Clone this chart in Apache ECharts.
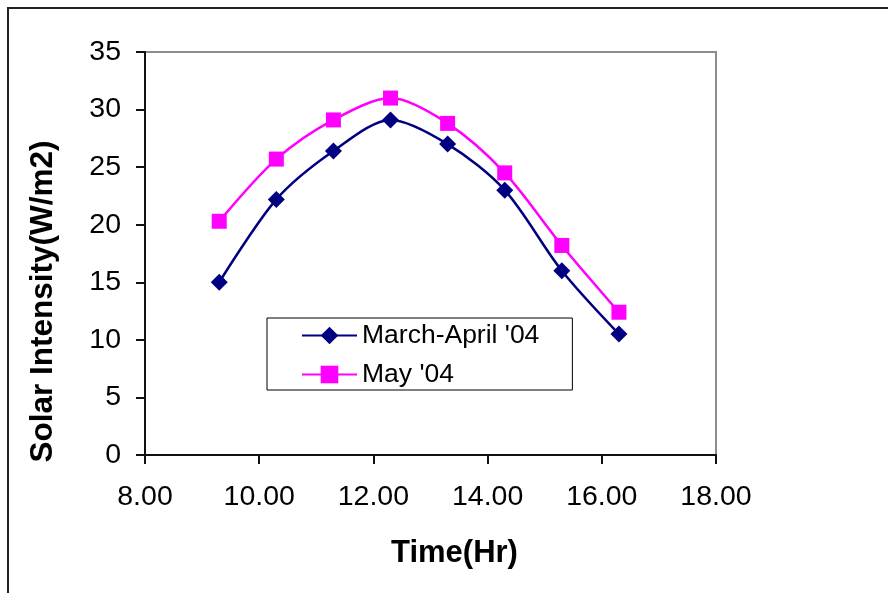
<!DOCTYPE html>
<html><head><meta charset="utf-8">
<script src="https://cdn.jsdelivr.net/npm/echarts@6/dist/echarts.min.js"></script>
<style>html,body{margin:0;padding:0;background:#fff}#c{width:888px;height:593px}</style>
</head><body><div id="c"></div>
<script>
const times = [9.3, 10.3, 11.3, 12.3, 13.3, 14.3, 15.3, 16.3];
const marchApril = [15.0, 22.2, 26.4, 29.1, 27.0, 23.0, 16.0, 10.5];
const may = [20.3, 25.7, 29.1, 31.0, 28.8, 24.5, 18.2, 12.4];
const seriesNames = ["March-April '04", "May '04"];

const chart = echarts.init(document.getElementById('c'));
const font = 'Liberation Sans, Arial, sans-serif';
chart.setOption({
  animation: false,
  graphic: [{type:'rect', shape:{x:8,y:8,width:900,height:600}, style:{fill:'none',stroke:'#222',lineWidth:2}}],
  grid: {left:145, top:52, width:571, height:403, show:true, borderColor:'#8c8c8c', borderWidth:2, containLabel:false},
  legend: {
    left: 267, top: 318,
    orient:'vertical', itemGap: 12, padding:[4,33,2,34],
    borderColor:'#000', borderWidth:1, backgroundColor:'#fff',
    itemWidth: 55, itemHeight: 22,
    textStyle:{fontFamily:font, fontSize:26.5, color:'#000'},
    data: seriesNames
  },
  xAxis: {
    type:'value', min:8, max:18, interval:2,
    name:'Time(Hr)', nameLocation:'middle', nameGap:83,
    nameTextStyle:{fontFamily:font, fontSize:31, fontWeight:'bold', color:'#000', padding:[0,0,0,48]},
    axisLine:{lineStyle:{color:'#111', width:2}},
    axisTick:{show:true, length:9, lineStyle:{color:'#111', width:2}},
    axisLabel:{fontFamily:font, fontSize:28.5, color:'#000', margin:28, formatter:v=>v.toFixed(2)},
    splitLine:{show:false}
  },
  yAxis: {
    type:'value', min:0, max:35, interval:5,
    name:'Solar Intensity(W/m2)', nameLocation:'middle', nameGap:86,
    nameTextStyle:{fontFamily:font, fontSize:31.5, fontWeight:'bold', color:'#000', padding:[0,96,0,0]},
    axisLine:{show:true, lineStyle:{color:'#111', width:2}},
    axisTick:{show:true, length:9, lineStyle:{color:'#111', width:2}},
    axisLabel:{fontFamily:font, fontSize:28.5, color:'#000', margin:24},
    splitLine:{show:false}
  },
  series: [
    {name:seriesNames[0], type:'line', smooth:0.3, data: times.map((t,i)=>[t, marchApril[i]]),
     symbol:'diamond', symbolSize:17, color:'#000080', lineStyle:{width:2.5, color:'#000080'}, itemStyle:{color:'#000080'}},
    {name:seriesNames[1], type:'line', smooth:0.3, data: times.map((t,i)=>[t, may[i]]),
     symbol:'rect', symbolSize:15, color:'#ff00ff', lineStyle:{width:2.5, color:'#ff00ff'}, itemStyle:{color:'#ff00ff'}}
  ]
});
</script></body></html>
